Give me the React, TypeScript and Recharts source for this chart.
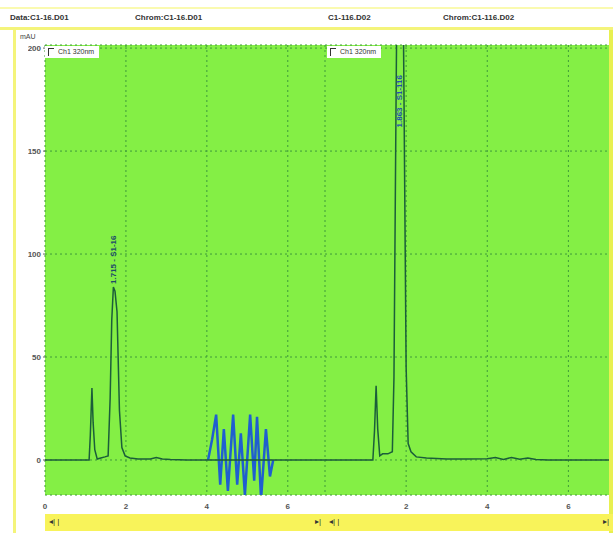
import React from 'react';
import { LineChart, Line, XAxis, YAxis, CartesianGrid, ReferenceDot } from 'recharts';

// axis ticks
const yTicks = [0, 50, 100, 150, 200];
const xTicks = [0, 2, 4, 6];

// left run (C1-16)
const leftTime = [0, 0.6, 1.04, 1.09, 1.12, 1.16, 1.19, 1.23, 1.29, 1.38, 1.48, 1.56, 1.61, 1.65, 1.69, 1.73, 1.78, 1.84, 1.9, 1.98, 2.1, 2.3, 2.6, 2.75, 2.9, 3.1, 3.5, 4.0, 5.0, 6.0, 6.92];
const leftAbs = [0, 0, 0, 0, 12, 35, 18, 5, 0.5, 1, 1.5, 2, 30, 68, 84, 82, 72, 24, 6, 2, 1, 0.5, 0.5, 1.2, 0.5, 0.2, 0, 0, 0, 0, 0];

// noisy blue trace in the left run
const noiseTime = [4.03, 4.13, 4.23, 4.33, 4.42, 4.52, 4.65, 4.75, 4.84, 4.94, 5.07, 5.17, 5.24, 5.34, 5.46, 5.56, 5.64];
const noiseAbs = [0, 10, 22, -12, 15, -15, 22, -12, 13, -17, 22, -10, 21, -19, 15, -8, 0];

// right run (C1-116)
const rightTime = [0, 0.6, 1.12, 1.18, 1.22, 1.26, 1.3, 1.35, 1.42, 1.55, 1.66, 1.7, 1.75, 1.8, 1.85, 1.9, 1.95, 2.0, 2.05, 2.12, 2.25, 2.5, 3.0, 3.5, 4.0, 4.2, 4.4, 4.6, 4.8, 5.0, 5.2, 5.5, 6.0, 7.1];
const rightAbs = [0, 0, 0, 0, 14, 36, 15, 2, 3, 3, 4, 40, 170, 290, 320, 290, 170, 45, 8, 4, 1.5, 1, 0.5, 0.5, 0.6, 1.2, 0.3, 1.2, 0.4, 1, 0.2, 0, 0, 0];

const leftData = leftTime.map((t, i) => ({ t, v: leftAbs[i] }));
const noiseData = noiseTime.map((t, i) => ({ t, v: noiseAbs[i] }));
const rightData = rightTime.map((t, i) => ({ t, v: rightAbs[i] }));

const GREEN = '#84ef45';
const TRACE = '#1b5e3a';
const FONT = 'Arial, "Liberation Sans", sans-serif';

const PeakLabel = ({ viewBox, text, color }: any) => {
  const x = viewBox.x + 2;
  const y = viewBox.y - 3;
  return (
    <text x={x} y={y} transform={`rotate(-90 ${x} ${y})`} fontSize={8} fontWeight="bold" fill={color} fontFamily={FONT}>
      {text}
    </text>
  );
};

const tickStyle = { fontSize: 8, fill: '#555', fontWeight: 'bold' as const, fontFamily: FONT };

const ChBox = ({ left }: { left: number }) => (
  <div style={{ position: 'absolute', left, top: 46, width: 54, height: 12, background: '#fff', fontSize: 7, color: '#333', fontFamily: FONT, lineHeight: '12px', display: 'flex', alignItems: 'center' }}>
    <span style={{ display: 'inline-block', width: 5, height: 7, borderLeft: '1px solid #333', borderTop: '1px solid #333', margin: '0 4px 0 3px' }} />
    Ch1 320nm
  </div>
);

const ScrollBar = ({ left, width }: { left: number; width: number }) => (
  <div style={{ position: 'absolute', left, top: 514, width, height: 17, background: '#f8f35a', fontSize: 8, color: '#333', fontFamily: FONT }}>
    <span style={{ position: 'absolute', left: 4, top: 3 }}>◂| |</span>
    <span style={{ position: 'absolute', right: 4, top: 3 }}>▸|</span>
  </div>
);

export default function App() {
  return (
    <div style={{ position: 'fixed', left: 0, top: 0, width: 613, height: 533, background: '#fff', overflow: 'hidden', fontFamily: FONT }}>
      {/* header */}
      <div style={{ position: 'absolute', left: 0, top: 7, width: 613, height: 2, background: '#fafab0' }} />
      <div style={{ position: 'absolute', left: 0, top: 27, width: 613, height: 3, background: '#f4f47a' }} />
      {[
        ['Data:C1-16.D01', 10],
        ['Chrom:C1-16.D01', 135],
        ['C1-116.D02', 328],
        ['Chrom:C1-116.D02', 443],
      ].map(([s, x]) => (
        <div key={s as string} style={{ position: 'absolute', left: x as number, top: 13, fontSize: 8, fontWeight: 'bold', color: '#333' }}>
          {s}
        </div>
      ))}
      <div style={{ position: 'absolute', left: 13, top: 27, width: 3, height: 506, background: '#f4f47a' }} />
      <div style={{ position: 'absolute', left: 20, top: 33, fontSize: 7, color: '#444' }}>mAU</div>

      {/* left run */}
      <div style={{ position: 'absolute', left: 28, top: 33 }}>
        <LineChart width={297} height={480} margin={{ top: 12, right: 0, bottom: 0, left: 0 }}>
          <CartesianGrid fill={GREEN} stroke="#3f9a3a" strokeDasharray="2 3" />
          <XAxis type="number" dataKey="t" domain={[0, 6.92]} ticks={xTicks} height={18} tick={tickStyle} tickLine={false} axisLine={false} allowDataOverflow />
          <YAxis type="number" domain={[-17, 201.5]} ticks={yTicks} width={17} tick={tickStyle} tickSize={2} axisLine={false} allowDataOverflow />
          <Line data={noiseData} dataKey="v" stroke="#1f5fd0" strokeWidth={2.5} dot={false} isAnimationActive={false} />
          <Line data={leftData} dataKey="v" stroke={TRACE} strokeWidth={1.5} dot={false} isAnimationActive={false} />
          <ReferenceDot x={1.71} y={84} r={0} fill="none" stroke="none" label={<PeakLabel text="1.715 - S1-16" color="#1d4a6a" />} />
        </LineChart>
      </div>
      <ChBox left={45} />

      {/* right run */}
      <div style={{ position: 'absolute', left: 325, top: 33 }}>
        <LineChart width={288} height={480} margin={{ top: 12, right: 0, bottom: 0, left: 0 }}>
          <CartesianGrid fill={GREEN} stroke="#3f9a3a" strokeDasharray="2 3" />
          <XAxis type="number" dataKey="t" domain={[0, 7.1]} ticks={xTicks} height={18} tick={tickStyle} tickLine={false} axisLine={false} allowDataOverflow />
          <YAxis type="number" domain={[-17, 201.5]} ticks={yTicks} width={0} hide allowDataOverflow />
          <Line data={rightData} dataKey="v" stroke={TRACE} strokeWidth={1.5} dot={false} isAnimationActive={false} />
          <ReferenceDot x={1.84} y={160} r={0} fill="none" stroke="none" label={<PeakLabel text="1.863 - S1-116" color="#1f4fb0" />} />
        </LineChart>
      </div>
      <ChBox left={327} />
      <div style={{ position: 'absolute', left: 609, top: 30, width: 4, height: 503, background: '#e8f050' }} />

      <ScrollBar left={45} width={280} />
      <ScrollBar left={325} width={288} />
    </div>
  );
}
